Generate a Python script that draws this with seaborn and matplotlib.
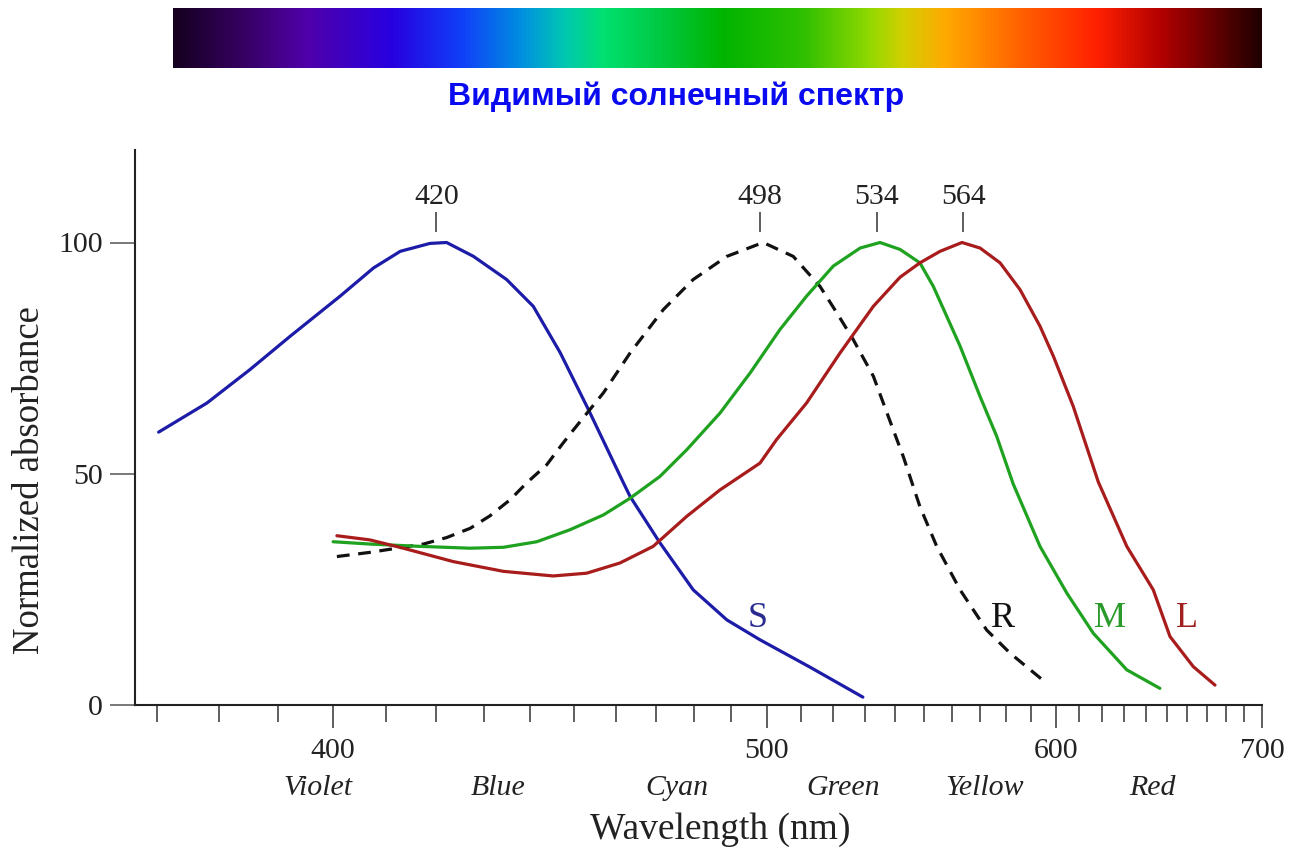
import numpy as np
import pandas as pd
import matplotlib
matplotlib.use("Agg")
import matplotlib.pyplot as plt
import matplotlib.transforms as mtransforms
from matplotlib.colors import LinearSegmentedColormap
import seaborn as sns

# ---------------- data ----------------
S_wl = [370.2, 378.0, 385.2, 392.2, 401.3, 407.6, 412.8, 418.7, 422.1, 427.7, 434.8,
        440.7, 446.8, 453.4, 461.5, 463.5, 471.0, 479.7, 488.8, 498.1, 512.8, 529.4]
S_abs = [59.0, 65.3, 72.5, 79.7, 88.4, 94.5, 98.1, 99.8, 100.0, 97.0, 92.0,
         86.2, 76.2, 63.9, 48.7, 45.1, 35.1, 24.9, 18.4, 14.1, 8.2, 1.7]

R_wl = [400.7, 406.9, 412.1, 417.4, 422.1, 427.0, 431.2, 435.6, 439.2, 443.7, 447.2,
        449.9, 457.0, 463.5, 471.9, 479.7, 488.8, 499.0, 507.8, 515.9, 521.1, 526.3,
        532.8, 539.4, 542.8, 548.5, 554.4, 562.8, 572.7, 581.7, 596.3]
R_abs = [32.1, 33.0, 33.9, 34.8, 36.2, 38.2, 40.9, 44.4, 48.0, 51.9, 56.3,
         59.5, 67.5, 76.1, 85.5, 92.0, 97.0, 100.0, 97.0, 90.5, 84.8, 79.0,
         71.1, 59.5, 53.7, 42.9, 34.3, 24.9, 16.2, 11.2, 4.7]

M_wl = [400.0, 406.9, 416.7, 427.0, 434.1, 441.5, 449.1, 457.0, 463.5, 471.0, 478.0,
        486.9, 495.3, 503.9, 511.8, 520.0, 528.5, 535.0, 541.7, 548.5, 553.2, 558.0,
        562.8, 570.2, 576.5, 582.9, 593.6, 604.7, 616.1, 631.1, 646.7]
M_abs = [35.3, 34.8, 34.3, 33.9, 34.1, 35.3, 37.9, 41.1, 44.7, 49.4, 55.2,
         63.1, 71.8, 81.2, 88.4, 94.9, 98.8, 100.0, 98.5, 95.6, 90.5, 84.0,
         77.6, 66.7, 58.1, 47.8, 34.3, 24.2, 15.5, 7.6, 3.6]

L_wl = [400.7, 406.9, 413.4, 423.5, 434.1, 445.2, 453.0, 461.0, 469.3, 478.0, 486.9,
        498.1, 502.9, 511.8, 522.1, 532.8, 541.7, 548.5, 555.6, 563.5, 570.2, 577.8,
        585.6, 593.6, 599.1, 607.4, 618.3, 631.1, 643.5, 651.6, 663.2, 674.4]
L_abs = [36.6, 35.7, 33.9, 31.0, 28.9, 27.9, 28.5, 30.7, 34.3, 40.8, 46.5,
         52.3, 57.4, 65.3, 76.1, 86.2, 92.5, 95.6, 98.1, 100.0, 98.8, 95.6,
         89.8, 81.9, 75.4, 64.6, 48.2, 34.3, 24.9, 14.8, 8.3, 4.3]

peak_wl = [420, 498, 534, 564]
peak_labels = ["420", "498", "534", "564"]

curve_names = ["S", "R", "M", "L"]
curve_label_wl = [497.5, 579.0, 623.5, 660.0]

band_names = ["Violet", "Blue", "Cyan", "Green", "Yellow", "Red"]
band_wl = [397.2, 433.0, 475.4, 523.0, 572.0, 643.0]

major_ticks = [400, 500, 600, 700]
minor_ticks = [w for w in range(370, 700, 10) if w % 100 != 0]
y_ticks = [0, 50, 100]

spectrum_stops = [0.0, 0.06, 0.12, 0.20, 0.265, 0.32, 0.36, 0.395, 0.45, 0.505,
                  0.58, 0.64, 0.67, 0.71, 0.78, 0.85, 0.91, 1.0]
spectrum_colors = ["#150020", "#35005f", "#5000a8", "#2800e0", "#1040f8", "#0090e0",
                   "#00c8b0", "#00e070", "#00c840", "#00b400", "#30c000", "#90d800",
                   "#d0d000", "#ffaa00", "#ff6000", "#ff2000", "#b00000", "#200000"]

title_text = "Видимый солнечный спектр"

# ---------------- style ----------------
sns.set_style("white")
plt.rcParams["font.family"] = ["Liberation Serif", "DejaVu Serif"]

colors = {"S": "#1c1ca8", "R": "#111111", "M": "#1fa21f", "L": "#a81c1c"}
label_colors = {"S": "#2a2a90", "R": "#111111", "M": "#2a9a2a", "L": "#a02020"}

fig = plt.figure(figsize=(12.89, 8.49), dpi=100)
W, H = 1289.0, 849.0
ax = fig.add_axes([135 / W, 1 - 705 / H, (1262 - 135) / W, (705 - 150) / H])

def fwd(x):
    x = np.asarray(x, dtype=float)
    with np.errstate(divide="ignore", invalid="ignore"):
        return -1.0 / x

def inv(y):
    y = np.asarray(y, dtype=float)
    with np.errstate(divide="ignore", invalid="ignore"):
        return -1.0 / y

ax.set_xscale("function", functions=(fwd, inv))

curves = [("S", S_wl, S_abs), ("R", R_wl, R_abs), ("M", M_wl, M_abs), ("L", L_wl, L_abs)]
for name, wl, ab in curves:
    df = pd.DataFrame({"wl": wl, "abs": ab})
    kw = {}
    if name == "R":
        kw["linestyle"] = (0, (4, 2.7))
    else:
        kw["solid_joinstyle"] = "round"
    sns.lineplot(data=df, x="wl", y="abs", ax=ax, color=colors[name], lw=2.3,
                 estimator=None, legend=False, **kw)

ax.set_xlim(366.5, 700)
ax.set_ylim(0, 120)

for s in ["top", "right"]:
    ax.spines[s].set_visible(False)
for s in ["left", "bottom"]:
    ax.spines[s].set_linewidth(1.5)
    ax.spines[s].set_color("#222222")

ax.set_xticks(major_ticks)
ax.set_xticklabels([str(t) for t in major_ticks])
ax.set_xticks(minor_ticks, minor=True)
ax.set_yticks(y_ticks)
ax.set_yticklabels([str(t) for t in y_ticks])
ax.tick_params(axis="x", which="major", direction="out", length=16.5, width=1.1,
               color="#333333", labelsize=21.5, pad=7, bottom=True)
ax.tick_params(axis="x", which="minor", direction="out", length=12, width=1.1,
               color="#333333", bottom=True)
ax.tick_params(axis="y", which="major", direction="out", length=18, width=1.1,
               color="#555555", labelsize=21.5, pad=5, left=True)
for lab in ax.get_xticklabels() + ax.get_yticklabels():
    lab.set_color("#222222")

# peak markers
ax.vlines(peak_wl, 102.2, 106.5, color="#333333", lw=1.1)
for w, t in zip(peak_wl, peak_labels):
    ax.text(w, 109.8, t, ha="center", va="center", fontsize=21.5, color="#222222")

# curve labels
for name, w in zip(curve_names, curve_label_wl):
    ax.text(w, 18.8, name, ha="center", va="center", fontsize=26,
            color=label_colors[name])

# band names under axis
trans = mtransforms.blended_transform_factory(ax.transData, ax.transAxes)
for name, w in zip(band_names, band_wl):
    ax.text(w, -0.1495, name, transform=trans, ha="center", va="center",
            fontsize=21.5, style="italic", color="#222222")

ax.set_xlabel("Wavelength (nm)", fontsize=27, color="#222222")
ax.xaxis.set_label_coords(0.519, -0.225)
ax.xaxis.label.set_va("center")
ax.set_ylabel("Normalized absorbance", fontsize=26.5, color="#222222")
ax.yaxis.set_label_coords(-0.093, 0.405)
ax.yaxis.label.set_va("center")

# spectrum bar
cmap = LinearSegmentedColormap.from_list("vis", list(zip(spectrum_stops, spectrum_colors)))
axb = fig.add_axes([173 / W, 1 - 68 / H, 1089 / W, 60 / H])
axb.imshow(np.linspace(0, 1, 1024)[None, :], aspect="auto", cmap=cmap,
           interpolation="bilinear")
axb.set_axis_off()

fig.text(676 / W, 1 - 97 / H, title_text, ha="center", va="center", fontsize=23,
         fontweight="bold", color="#0a0af0", family=["Liberation Sans", "DejaVu Sans"])

fig.savefig("out.png", dpi=100)
